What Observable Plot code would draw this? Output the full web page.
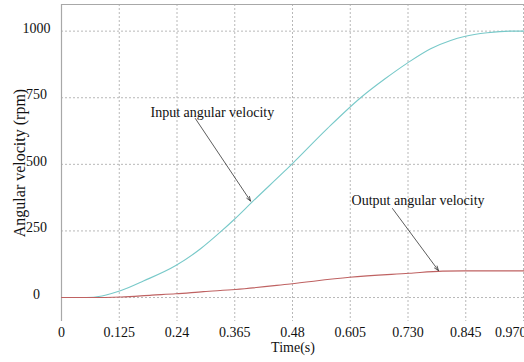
<!DOCTYPE html>
<html>
<head>
<meta charset="utf-8">
<script src="https://cdn.jsdelivr.net/npm/d3@7"></script>
<script src="https://cdn.jsdelivr.net/npm/@observablehq/plot@0.6"></script>
<style>
  html, body { margin: 0; padding: 0; background: #fff; overflow: hidden; }
  svg, svg text { font-family: "Liberation Serif", "Times New Roman", serif !important; }
</style>
</head>
<body>
<div id="chart"></div>
<script>
// Input angular velocity (rpm) vs time (s)
const inputTime  = [0, 0.052, 0.085, 0.125, 0.172, 0.24, 0.292, 0.335, 0.362, 0.40, 0.47, 0.481, 0.558, 0.628, 0.68, 0.726, 0.775, 0.817, 0.846, 0.894, 0.943, 0.975];
const inputValue = [0, 0,     6,     26,    62,    120,  183,   248,   292,   358,  477,  496,   634,   750,   822,  880,   934,   965,   980,   994,   1000,  1000];
// Output angular velocity (rpm) vs time (s)
const outputTime  = [0, 0.06, 0.125, 0.19, 0.24, 0.298, 0.365, 0.48, 0.605, 0.73, 0.80, 0.845, 0.975];
const outputValue = [0, 0,    2,     9,    14,   22,    30,    51,   76,    91,   99,   100,   100];

// Axis ticks
const xTickLabels = ["0", "0.125", "0.24", "0.365", "0.48", "0.605", "0.730", "0.845", "0.970"];
const xMax = 0.97;
const yTicks = [0, 250, 500, 750, 1000];

// Annotations
const labels = ["Input angular velocity", "Output angular velocity"];
const labelTime  = [0.187, 0.609];
const labelValue = [694, 364];
const arrowFrom  = [[0.281, 672], [0.695, 334]];
const arrowTo    = [[0.397, 362], [0.7915, 101]];

const inputData = inputTime.map((t, i) => ({t, v: inputValue[i]}));
const outputData = outputTime.map((t, i) => ({t, v: outputValue[i]}));
const xTickPos = xTickLabels.map((_, i) => i * xMax / (xTickLabels.length - 1));
const last = xTickPos.length - 1;
const annot = labels.map((s, i) => ({s, t: labelTime[i], v: labelValue[i]}));
const arrows = arrowFrom.map((a, i) => ({x1: a[0], y1: a[1], x2: arrowTo[i][0], y2: arrowTo[i][1]}));

const font = "'Liberation Serif', 'Times New Roman', serif";

const chart = Plot.plot({
  width: 524,
  height: 362,
  marginLeft: 61,
  marginRight: 0,
  marginTop: 4,
  marginBottom: 41,
  style: {fontFamily: font, fontSize: "14px", background: "#fff", overflow: "visible"},
  x: {domain: [0, xMax * 463 / 462]},
  y: {domain: [-90, 1100]},
  marks: [
    Plot.gridX(xTickPos, {stroke: "#b8b8b8", strokeOpacity: 1, strokeDasharray: "2,2"}),
    Plot.gridY(yTicks, {stroke: "#b8b8b8", strokeOpacity: 1, strokeDasharray: "2,2"}),
    Plot.ruleY([1100], {stroke: "#a8a8a8", strokeWidth: 1.2}),
    Plot.ruleX([0], {stroke: "#a8a8a8", strokeWidth: 1.2}),
    Plot.axisX(xTickPos.slice(0, last), {
      tickSize: 0, tickPadding: 6, fontSize: 14, fill: "#111",
      tickFormat: (d, i) => xTickLabels[i]
    }),
    Plot.axisX([xTickPos[last]], {
      tickSize: 0, tickPadding: 6, fontSize: 14, fill: "#111", textAnchor: "end", dx: 3,
      tickFormat: () => xTickLabels[last]
    }),
    Plot.axisY(yTicks, {
      tickSize: 0, tickPadding: 25, textAnchor: "middle", fontSize: 14, fill: "#111", dy: -3,
      tickFormat: d => String(d)
    }),
    Plot.line(inputData, {x: "t", y: "v", stroke: "#78c9c9", strokeWidth: 1.1, curve: "monotone-x"}),
    Plot.line(outputData, {x: "t", y: "v", stroke: "#bf6262", strokeWidth: 1.1, curve: "monotone-x"}),
    Plot.arrow(arrows, {x1: "x1", y1: "y1", x2: "x2", y2: "y2", stroke: "#333", strokeWidth: 0.8, headLength: 9, headAngle: 40}),
    Plot.text(annot, {x: "t", y: "v", text: "s", textAnchor: "start", fontSize: 14, fill: "#111"}),
    Plot.text(["Angular velocity (rpm)"], {frameAnchor: "left", textAnchor: "middle", rotate: -90, dx: -42, fontSize: 16, fill: "#111"}),
    Plot.text(["Time(s)"], {frameAnchor: "bottom", dy: 30, fontSize: 14, fill: "#111"})
  ]
});
document.getElementById("chart").appendChild(chart);
</script>
</body>
</html>
